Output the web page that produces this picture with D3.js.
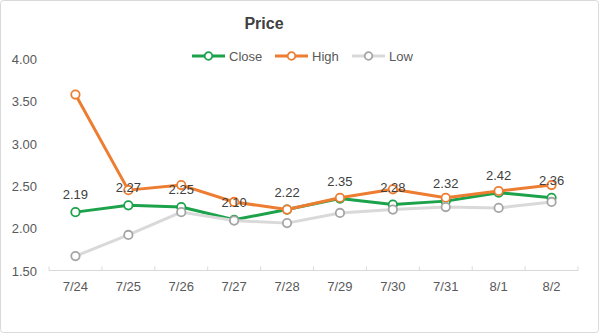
<!DOCTYPE html>
<html><head><meta charset="utf-8">
<script src="https://cdn.jsdelivr.net/npm/d3@7"></script>
<style>body{margin:0;background:#fff;}svg{display:block;font-family:Arial,"Liberation Sans",sans-serif;}</style>
</head><body>
<svg id="c" width="600" height="334"></svg>
<script>
const categories = ["7/24","7/25","7/26","7/27","7/28","7/29","7/30","7/31","8/1","8/2"];
const closeVals = [2.19,2.27,2.25,2.10,2.22,2.35,2.28,2.32,2.42,2.36];
const highVals  = [3.58,2.45,2.51,2.31,2.22,2.36,2.46,2.36,2.44,2.51];
const lowVals   = [1.67,1.92,2.19,2.09,2.06,2.18,2.22,2.25,2.24,2.31];
const yTicks = [1.5,2.0,2.5,3.0,3.5,4.0];
const seriesNames = ["Close","High","Low"];

const svg = d3.select("#c");
svg.append("rect").attr("x",0.5).attr("y",0.5).attr("width",598).attr("height",332)
  .attr("rx",3).attr("fill","#fff").attr("stroke","#d9d9d9");

const x = d3.scaleBand().domain(categories).range([49,578]);
const y = d3.scaleLinear().domain([1.5,4.0]).range([270.5,59]);

// y axis labels
const yAx = d3.axisLeft(y).tickValues(yTicks).tickFormat(d3.format(".2f")).tickSize(0).tickPadding(0);
const gy = svg.append("g").attr("transform","translate(37,0)").call(yAx);
gy.select(".domain").remove();
gy.selectAll("text").attr("font-size",13).attr("fill","#595959").attr("font-family","Arial,'Liberation Sans',sans-serif").attr("dy","0.35em");

// x axis
const gx = svg.append("g").attr("transform","translate(0,"+y(1.5)+")");
gx.append("line").attr("x1",49).attr("x2",578).attr("stroke","#d9d9d9");
const edges = categories.map(c=>x(c)).concat([x(categories[categories.length-1])+x.bandwidth()]);
gx.selectAll("line.t").data(edges).join("line").attr("class","t")
  .attr("x1",d=>d).attr("x2",d=>d).attr("y1",-4).attr("y2",0).attr("stroke","#d9d9d9");
gx.selectAll("text").data(categories).join("text")
  .attr("x",d=>x(d)+x.bandwidth()/2).attr("y",20).attr("text-anchor","middle")
  .attr("font-size",13).attr("fill","#595959").text(d=>d);

const cx = d => x(d)+x.bandwidth()/2;
const series = [
  {name:"Close", vals:closeVals, line:"#1ba24b", mark:"#1ba24b"},
  {name:"High", vals:highVals, line:"#ed7d31", mark:"#ed7d31"},
  {name:"Low", vals:lowVals, line:"#d9d9d9", mark:"#a5a5a5"}
];
const lineGen = d3.line().x((d,i)=>cx(categories[i])).y(d=>y(d));
series.forEach(s=>{
  svg.append("path").attr("d",lineGen(s.vals)).attr("fill","none")
    .attr("stroke",s.line).attr("stroke-width",3).attr("stroke-linejoin","round");
  svg.selectAll(null).data(s.vals).join("circle")
    .attr("cx",(d,i)=>cx(categories[i])).attr("cy",d=>y(d)).attr("r",4.2)
    .attr("fill","#fff").attr("stroke",s.mark).attr("stroke-width",1.8);
});

// data labels for Close
svg.selectAll("text.lbl").data(closeVals).join("text").attr("class","lbl")
  .attr("x",(d,i)=>cx(categories[i])).attr("y",d=>y(d)-13)
  .attr("text-anchor","middle").attr("font-size",13).attr("fill","#404040")
  .text(d=>d.toFixed(2));

// title
svg.append("text").attr("x",264).attr("y",29).attr("text-anchor","middle")
  .attr("font-size",16).attr("font-weight","bold").attr("fill","#404040").text("Price");

// legend
const legendCols = {Close:"#1ba24b", High:"#ed7d31", Low:"#d9d9d9"};
const legendMark = {Close:"#1ba24b", High:"#ed7d31", Low:"#a5a5a5"};
const legX = {Close:192, High:275, Low:352};
seriesNames.forEach(n=>{
  const g = svg.append("g").attr("transform","translate("+legX[n]+",56)");
  g.append("line").attr("x1",0).attr("x2",33).attr("stroke",legendCols[n]).attr("stroke-width",3);
  g.append("circle").attr("cx",16.5).attr("cy",0).attr("r",3.8).attr("fill","#fff")
    .attr("stroke",legendMark[n]).attr("stroke-width",1.8);
  g.append("text").attr("x",37).attr("y",0).attr("dy","0.35em").attr("font-size",13)
    .attr("fill","#595959").text(n);
});
</script>
</body></html>
